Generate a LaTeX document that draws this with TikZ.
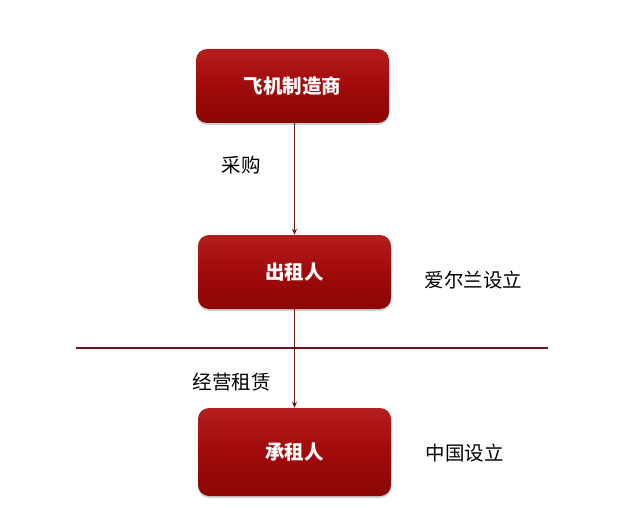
\documentclass[tikz,border=0pt]{standalone}
\usepackage{fontspec}
\newfontfamily\cjk{Noto Sans CJK SC}
\usetikzlibrary{arrows.meta,shadows,calc}
\definecolor{boxred}{HTML}{A00A0A}
\definecolor{boxtop}{HTML}{B51E1E}
\definecolor{boxbot}{HTML}{8C0606}
\definecolor{linered}{HTML}{6E1414}
\tikzset{
  redbox/.style={rectangle, rounded corners=11pt, minimum width=193pt,
    top color=boxtop, bottom color=boxbot, middle color=boxred,
    draw=none, text=white, font=\cjk\bfseries\fontsize{19.5}{22}\selectfont,
    drop shadow={opacity=0.35, shadow xshift=0pt, shadow yshift=-2pt}},
  lbl/.style={font=\cjk\fontsize{19.5}{22}\selectfont, text=black, inner sep=0pt},
  conn/.style={draw=linered, line width=0.9pt, -{Stealth[length=6pt,width=5pt]}},
  sep/.style={draw=linered, line width=1.1pt}
}
\begin{document}
\begin{tikzpicture}[x=1pt,y=-1pt]
\useasboundingbox (0,0) rectangle (618,508);
\fill[white] (0,0) rectangle (618,508);
\node[redbox, minimum height=74pt] (maker) at (292.5,86) {飞机制造商};
\node[redbox, minimum height=74pt] (lessor) at (294.5,272) {出租人};
\node[redbox, minimum height=88pt] (lessee) at (294.5,452) {承租人};
\coordinate (sepL) at (76,348);
\coordinate (sepR) at (548,348);
\draw[sep] (sepL) -- (sepR);
\draw[conn] (maker.south -| lessor.north) -- (lessor.north);
\draw[conn] (lessor.south) -- (lessee.north);
\node[lbl] (buy) at (241,165) {采购};
\node[lbl] (ireland) at (473.5,280) {爱尔兰设立};
\node[lbl] (oplease) at (231.5,382) {经营租赁};
\node[lbl] (china) at (464.5,453) {中国设立};
\end{tikzpicture}
\end{document}
